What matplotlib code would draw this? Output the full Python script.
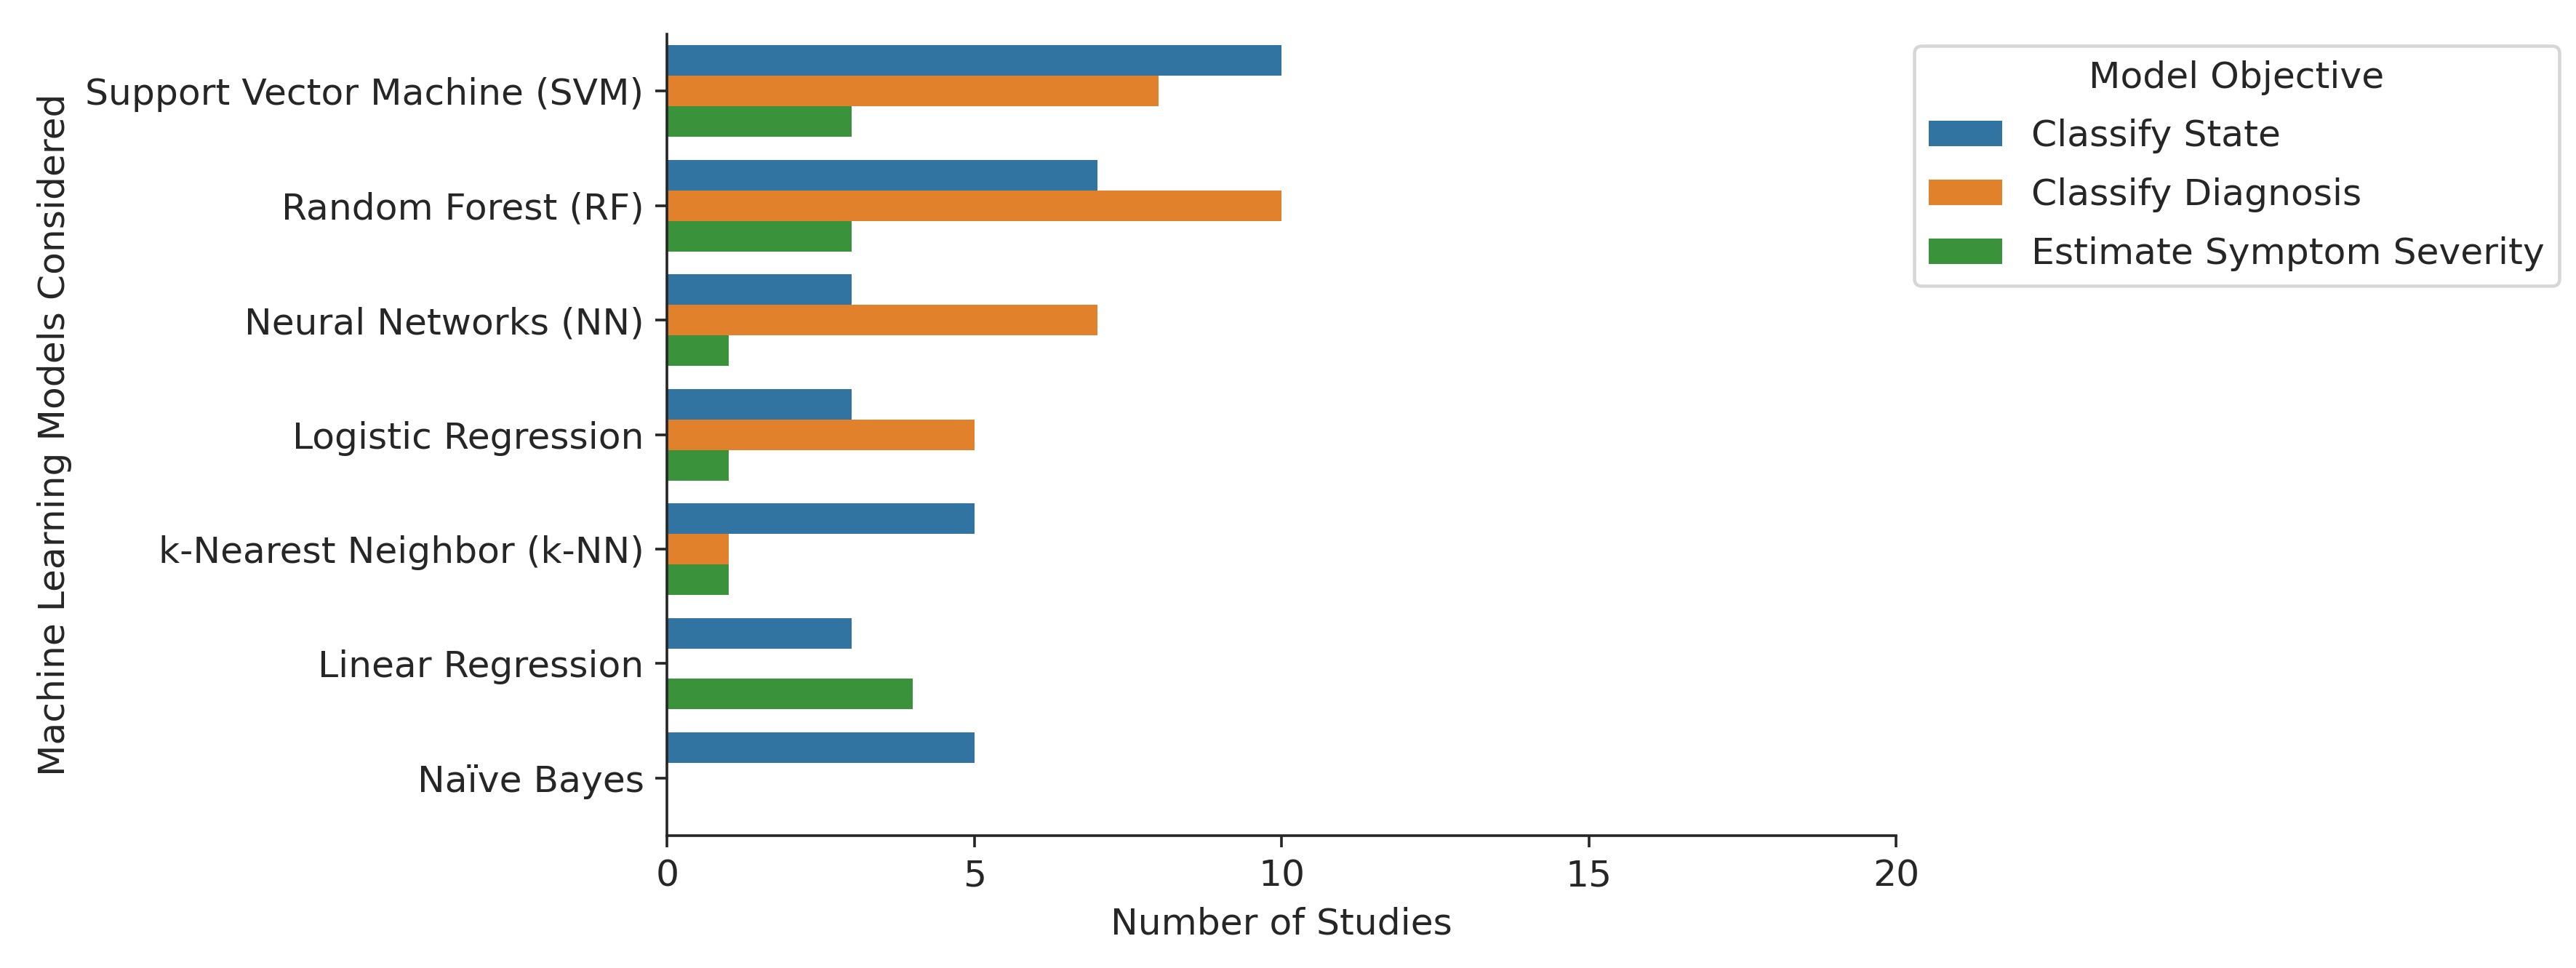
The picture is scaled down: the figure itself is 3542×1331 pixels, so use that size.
import numpy as np
import matplotlib
matplotlib.use("Agg")
import matplotlib.pyplot as plt

models = ["Support Vector Machine (SVM)", "Random Forest (RF)", "Neural Networks (NN)",
          "Logistic Regression", "k-Nearest Neighbor (k-NN)", "Linear Regression", "Naïve Bayes"]
objectives = ["Classify State", "Classify Diagnosis", "Estimate Symptom Severity"]
classify_state = [10, 7, 3, 3, 5, 3, 5]
classify_diagnosis = [8, 10, 7, 5, 1, 0, 0]
estimate_severity = [3, 3, 1, 1, 1, 4, 0]
colors = ["#3274a1", "#e1812c", "#3a923a"]

plt.rcParams['font.family'] = ['DejaVu Sans']
plt.rcParams['font.size'] = 11.1
plt.rcParams['text.color'] = '#262626'
plt.rcParams['axes.labelcolor'] = '#262626'
plt.rcParams['xtick.color'] = '#262626'
plt.rcParams['ytick.color'] = '#262626'

dpi = 327
fig = plt.figure(figsize=(3542 / dpi, 1331 / dpi), dpi=dpi)
ax = fig.add_axes([0.259, 0.137, 0.477, 0.828])

y = np.arange(len(models))
h = 0.8 / 3
series = [classify_state, classify_diagnosis, estimate_severity]
for k, (vals, lab, c) in enumerate(zip(series, objectives, colors)):
    ax.barh(y - 0.4 + h * (k + 0.5), vals, height=h, color=c, label=lab)

ax.set_yticks(y)
ax.set_yticklabels(models)
ax.set_ylim(len(models) - 0.5, -0.5)
ax.set_xlim(0, 20)
ax.set_xticks([0, 5, 10, 15, 20])
ax.set_xlabel("Number of Studies")
ax.set_ylabel("Machine Learning Models Considered")
for s in ["top", "right"]:
    ax.spines[s].set_visible(False)
for s in ["left", "bottom"]:
    ax.spines[s].set_color('#262626')

ax.legend(title="Model Objective", loc="upper left", bbox_to_anchor=(0.743, 0.953),
          bbox_transform=fig.transFigure, borderaxespad=0, frameon=True,
          labelspacing=0.65)

fig.savefig("out.png", dpi=dpi)
